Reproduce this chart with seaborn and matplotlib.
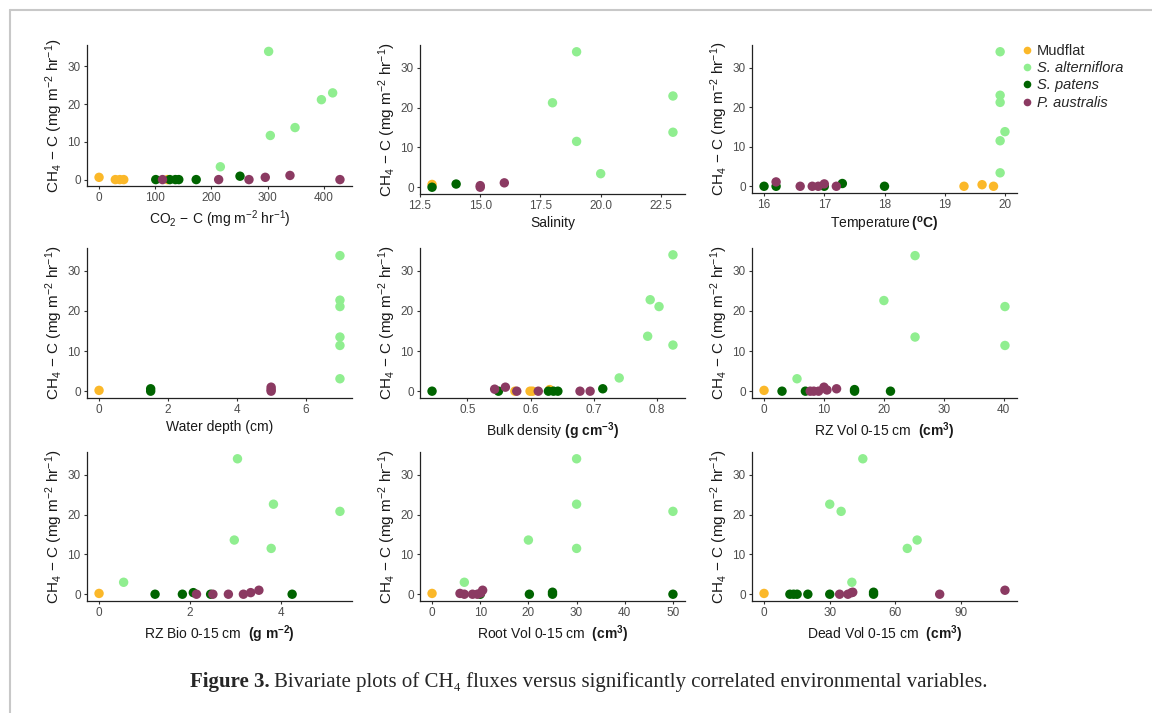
import numpy as np
import pandas as pd
import matplotlib
matplotlib.use("Agg")
import matplotlib.pyplot as plt
import seaborn as sns
from matplotlib.lines import Line2D
from matplotlib.ticker import FormatStrFormatter

# ---------------- data ----------------
species_names = {"M": "Mudflat", "A": "S. alterniflora", "S": "S. patens", "P": "P. australis"}
species_order = ["Mudflat", "S. alterniflora", "S. patens", "P. australis"]
palette = ["#FBB829", "#90EE90", "#006400", "#8B3A62"]

co2_sp = ["M"] * 5 + ["A"] * 6 + ["S"] * 6 + ["P"] * 6
co2_x = [0, 29, 37, 44, 122, 216, 302, 305, 349, 396, 416, 101, 126, 136, 142, 173, 251, 113, 213, 267, 296, 340, 429]
co2_y = [0.6, 0, 0, 0, 0, 3.4, 34.0, 11.7, 13.8, 21.2, 23.0, 0, 0, 0, 0, 0, 0.9, 0, 0, 0, 0.6, 1.1, 0]

sal_sp = ["M"] + ["A"] * 6 + ["S"] * 2 + ["P"] * 3
sal_x = [13, 18, 19, 19, 20, 23, 23, 13, 14, 15, 15, 16]
sal_y = [0.7, 21.2, 34.0, 11.5, 3.4, 22.9, 13.8, 0, 0.8, 0, 0.4, 1.1]

temp_sp = ["M"] * 3 + ["A"] * 6 + ["S"] * 5 + ["P"] * 6
temp_x = [19.32, 19.62, 19.81, 19.92, 19.92, 19.92, 19.92, 19.92, 20.0,
          16.0, 16.2, 17.0, 17.3, 18.0, 16.2, 16.6, 16.8, 16.9, 17.0, 17.2]
temp_y = [0, 0.4, 0, 34.0, 23.0, 21.2, 11.5, 3.4, 13.8, 0, 0, 0, 0.7, 0, 1.1, 0, 0, 0, 0.6, 0]

wd_sp = ["M"] + ["A"] * 6 + ["S"] * 2 + ["P"] * 3
wd_x = [0, 7, 7, 7, 7, 7, 7, 1.5, 1.5, 5, 5, 5]
wd_y = [0.2, 33.8, 22.7, 21.1, 13.5, 11.4, 3.1, 0, 0.6, 0, 0.4, 1.0]

bd_sp = ["M"] * 4 + ["A"] * 6 + ["S"] * 6 + ["P"] * 6
bd_x = [0.575, 0.599, 0.603, 0.630, 0.740, 0.785, 0.789, 0.803, 0.825, 0.825,
        0.444, 0.549, 0.628, 0.636, 0.643, 0.714, 0.543, 0.560, 0.578, 0.612, 0.678, 0.694]
bd_y = [0, 0, 0, 0.4, 3.3, 13.7, 22.8, 21.1, 34.0, 11.5,
        0, 0, 0, 0, 0, 0.6, 0.5, 1.0, 0, 0, 0, 0]

rzv_sp = ["M"] + ["A"] * 6 + ["S"] * 5 + ["P"] * 6
rzv_x = [0, 5.5, 20, 25.2, 25.2, 40.2, 40.2, 3.0, 6.9, 15.1, 15.1, 21.1, 7.7, 8.3, 9.1, 10.0, 10.5, 12.1]
rzv_y = [0.2, 3.1, 22.6, 33.8, 13.5, 21.1, 11.4, 0, 0, 0.4, 0, 0, 0, 0, 0, 1.0, 0.3, 0.6]

rzb_sp = ["M"] + ["A"] * 6 + ["S"] * 5 + ["P"] * 6
rzb_x = [0, 0.54, 2.97, 3.04, 3.78, 3.83, 5.29, 1.23, 1.83, 2.07, 2.45, 4.24, 2.14, 2.5, 2.84, 3.17, 3.33, 3.51]
rzb_y = [0.2, 3.0, 13.6, 34.0, 11.5, 22.6, 20.8, 0, 0, 0.4, 0, 0, 0, 0, 0, 0, 0.4, 1.0]

rv_sp = ["M"] + ["A"] * 6 + ["S"] * 5 + ["P"] * 6
rv_x = [0, 6.7, 20, 30, 30, 30, 50, 10, 20.2, 25, 25, 50, 5.8, 6.7, 8.4, 9.4, 10.1, 10.5]
rv_y = [0.2, 3.0, 13.6, 34.0, 22.6, 11.5, 20.8, 0, 0, 0.5, 0, 0, 0.2, 0, 0, 0, 0.3, 1.0]

dv_sp = ["M"] + ["A"] * 6 + ["S"] * 7 + ["P"] * 6
dv_x = [0, 30, 35.2, 45.1, 40.1, 65.4, 69.9, 11.8, 13.5, 15.1, 20, 30, 50, 50, 34.5, 38.3, 40, 40.5, 80.2, 110]
dv_y = [0.2, 22.6, 20.8, 34.0, 3.0, 11.5, 13.6, 0, 0, 0, 0, 0, 0.5, 0, 0, 0, 0.4, 0.5, 0, 1.0]

ylabel_txt = r"CH$_4$$\,-\,$C (mg m$^{-2}$ hr$^{-1}$)"
xlabels = [r"CO$_2$$\,-\,$C (mg m$^{-2}$ hr$^{-1}$)", "Salinity", r"Temperature$\,\mathbf{(^oC)}$",
           "Water depth (cm)", r"Bulk density $\mathbf{(g\ cm^{-3})}$", r"RZ Vol 0-15 cm  $\mathbf{(cm^3)}$",
           r"RZ Bio 0-15 cm  $\mathbf{(g\ m^{-2})}$", r"Root Vol 0-15 cm  $\mathbf{(cm^3)}$",
           r"Dead Vol 0-15 cm  $\mathbf{(cm^3)}$"]
xticks = [[0, 100, 200, 300, 400], [12.5, 15.0, 17.5, 20.0, 22.5], [16, 17, 18, 19, 20],
          [0, 2, 4, 6], [0.5, 0.6, 0.7, 0.8], [0, 10, 20, 30, 40],
          [0, 2, 4], [0, 10, 20, 30, 40, 50], [0, 30, 60, 90]]
yticks = [0, 10, 20, 30]

panels = [(co2_sp, co2_x, co2_y), (sal_sp, sal_x, sal_y), (temp_sp, temp_x, temp_y),
          (wd_sp, wd_x, wd_y), (bd_sp, bd_x, bd_y), (rzv_sp, rzv_x, rzv_y),
          (rzb_sp, rzb_x, rzb_y), (rv_sp, rv_x, rv_y), (dv_sp, dv_x, dv_y)]

# ---------------- style ----------------
sns.set_style("ticks")
plt.rcParams["font.family"] = ["Liberation Sans", "DejaVu Sans"]
plt.rcParams["mathtext.fontset"] = "custom"
plt.rcParams["mathtext.rm"] = "Liberation Sans"
plt.rcParams["mathtext.it"] = "Liberation Sans:italic"
plt.rcParams["mathtext.bf"] = "Liberation Sans:bold"

W, H = 1152, 713
fig = plt.figure(figsize=(W / 100, H / 100), dpi=100)

# axes rectangles in pixels: left, top, right, bottom
rects = [(87, 45, 352, 186), (420, 45, 685, 194), (752, 45, 1017, 193),
         (87, 248, 352, 398), (420, 248, 685, 398), (752, 248, 1017, 398),
         (87, 452, 352, 601), (420, 452, 685, 601), (752, 452, 1017, 601)]

for i, ((sp, xs, ys), (l, t, r, b)) in enumerate(zip(panels, rects)):
    ax = fig.add_axes([l / W, 1 - b / H, (r - l) / W, (b - t) / H])
    df = pd.DataFrame({"x": xs, "y": ys, "species": [species_names[s] for s in sp]})
    sns.scatterplot(data=df, x="x", y="y", hue="species", hue_order=species_order,
                    palette=palette, s=46, linewidth=0, alpha=1, legend=False, ax=ax)
    ax.margins(x=0.05, y=0.05)
    ax.set_yticks(yticks)
    ax.set_xticks(xticks[i])
    if i == 1:
        ax.xaxis.set_major_formatter(FormatStrFormatter("%.1f"))
    ax.set_ylim(-1.7, 35.7)
    sns.despine(ax=ax)
    for s in ["left", "bottom"]:
        ax.spines[s].set_color("#222222")
        ax.spines[s].set_linewidth(0.9)
    ax.tick_params(axis="both", length=2.5, width=0.8, color="#333333",
                   labelcolor="#4D4D4D", labelsize=8.5, pad=2)
    ax.set_xlabel(xlabels[i], fontsize=10, color="#1a1a1a", labelpad=3)
    ax.set_ylabel(ylabel_txt, fontsize=11, color="#1a1a1a", labelpad=2)

# legend
handles = [Line2D([0], [0], marker="o", linestyle="", markersize=5.5, markerfacecolor=c,
                  markeredgewidth=0) for c in palette]
leg = fig.legend(handles, species_order, loc="upper left", bbox_to_anchor=(1021 / W, 1 - 44 / H),
                 frameon=False, fontsize=10.5, handletextpad=0.3, handlelength=0.8,
                 labelspacing=0.22, borderpad=0, borderaxespad=0)
for t in leg.get_texts()[1:]:
    t.set_fontstyle("italic")

# frame lines
fig.add_artist(Line2D([10 / W, 10 / W], [0, 1 - 10 / H], transform=fig.transFigure,
                      color="#c8c8c8", lw=1.5))
fig.add_artist(Line2D([10 / W, 1], [1 - 10 / H, 1 - 10 / H], transform=fig.transFigure,
                      color="#c8c8c8", lw=1.5))

# caption
serif = ["Liberation Serif", "DejaVu Serif"]
renderer = fig.canvas.get_renderer()
t1 = fig.text(190 / W, 1 - 682 / H, "Figure 3.", fontsize=15, fontweight="bold",
              family=serif, va="center", ha="left")
bb = t1.get_window_extent(renderer=renderer)
fig.text((bb.x1 + 4) / W, 1 - 682 / H,
         "Bivariate plots of CH\u2084 fluxes versus significantly correlated environmental variables.",
         fontsize=15, family=serif, va="center", ha="left")

fig.savefig("out.png", dpi=100)
